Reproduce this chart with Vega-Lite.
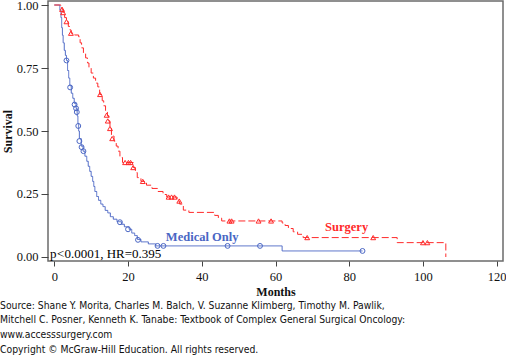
{
  "$schema": "https://vega.github.io/schema/vega-lite/v6.json",
  "width": 455,
  "height": 260,
  "autosize": {"type": "none"},
  "padding": {"left": 48, "top": 1, "right": 3, "bottom": 99},
  "background": "white",
  "config": {
    "view": {"stroke": "#6b6b6b", "strokeWidth": 1.5},
    "axis": {
      "domain": false,
      "grid": false,
      "tickColor": "#444",
      "labelFont": "Liberation Serif",
      "labelFontSize": 12.5,
      "labelColor": "#111",
      "titleFont": "Liberation Serif",
      "titleFontSize": 12,
      "titleFontWeight": "bold",
      "titleColor": "#111"
    }
  },
  "title": {
    "text": [
      "Source: Shane Y. Morita, Charles M. Balch, V. Suzanne Klimberg, Timothy M. Pawlik,",
      "Mitchell C. Posner, Kenneth K. Tanabe: Textbook of Complex General Surgical Oncology:",
      "www.accesssurgery.com",
      "Copyright © McGraw-Hill Education. All rights reserved."
    ],
    "orient": "bottom",
    "anchor": "start",
    "frame": "group",
    "dx": -48,
    "offset": 3,
    "font": "DejaVu Sans Condensed, Liberation Sans, sans-serif",
    "fontSize": 10.3,
    "fontWeight": "normal",
    "lineHeight": 14.7,
    "color": "#111"
  },
  "datasets": {
    "curves": [
      {"group": "Medical Only", "t": 0, "s": 1.0},
      {"group": "Medical Only", "t": 1.3, "s": 1.0},
      {"group": "Medical Only", "t": 1.5, "s": 0.98},
      {"group": "Medical Only", "t": 1.8, "s": 0.95},
      {"group": "Medical Only", "t": 2.0, "s": 0.91},
      {"group": "Medical Only", "t": 2.2, "s": 0.88},
      {"group": "Medical Only", "t": 2.4, "s": 0.85},
      {"group": "Medical Only", "t": 2.7, "s": 0.82},
      {"group": "Medical Only", "t": 3.0, "s": 0.80},
      {"group": "Medical Only", "t": 3.3, "s": 0.78},
      {"group": "Medical Only", "t": 3.6, "s": 0.74},
      {"group": "Medical Only", "t": 3.9, "s": 0.71},
      {"group": "Medical Only", "t": 4.2, "s": 0.68},
      {"group": "Medical Only", "t": 4.6, "s": 0.65},
      {"group": "Medical Only", "t": 5.0, "s": 0.63},
      {"group": "Medical Only", "t": 5.4, "s": 0.61},
      {"group": "Medical Only", "t": 5.9, "s": 0.59},
      {"group": "Medical Only", "t": 6.2, "s": 0.56},
      {"group": "Medical Only", "t": 6.4, "s": 0.53},
      {"group": "Medical Only", "t": 6.6, "s": 0.50},
      {"group": "Medical Only", "t": 6.8, "s": 0.47},
      {"group": "Medical Only", "t": 7.3, "s": 0.44},
      {"group": "Medical Only", "t": 7.8, "s": 0.42},
      {"group": "Medical Only", "t": 8.3, "s": 0.40},
      {"group": "Medical Only", "t": 8.8, "s": 0.38},
      {"group": "Medical Only", "t": 9.2, "s": 0.36},
      {"group": "Medical Only", "t": 9.6, "s": 0.34},
      {"group": "Medical Only", "t": 10.0, "s": 0.32},
      {"group": "Medical Only", "t": 10.4, "s": 0.30},
      {"group": "Medical Only", "t": 10.7, "s": 0.28},
      {"group": "Medical Only", "t": 11.0, "s": 0.26},
      {"group": "Medical Only", "t": 11.5, "s": 0.24},
      {"group": "Medical Only", "t": 12.0, "s": 0.225},
      {"group": "Medical Only", "t": 12.6, "s": 0.21},
      {"group": "Medical Only", "t": 13.2, "s": 0.20},
      {"group": "Medical Only", "t": 13.8, "s": 0.185},
      {"group": "Medical Only", "t": 14.5, "s": 0.175},
      {"group": "Medical Only", "t": 15.2, "s": 0.16},
      {"group": "Medical Only", "t": 16.0, "s": 0.15},
      {"group": "Medical Only", "t": 17.0, "s": 0.14},
      {"group": "Medical Only", "t": 18.2, "s": 0.13},
      {"group": "Medical Only", "t": 19.0, "s": 0.12},
      {"group": "Medical Only", "t": 20.3, "s": 0.11},
      {"group": "Medical Only", "t": 21.0, "s": 0.095},
      {"group": "Medical Only", "t": 21.8, "s": 0.085},
      {"group": "Medical Only", "t": 22.5, "s": 0.07},
      {"group": "Medical Only", "t": 23.5, "s": 0.06},
      {"group": "Medical Only", "t": 25.5, "s": 0.052},
      {"group": "Medical Only", "t": 27.5, "s": 0.044},
      {"group": "Medical Only", "t": 61.8, "s": 0.024},
      {"group": "Medical Only", "t": 83.6, "s": 0.024},
      {"group": "Surgery", "t": 0, "s": 1.0},
      {"group": "Surgery", "t": 1.5, "s": 1.0},
      {"group": "Surgery", "t": 1.8, "s": 0.99},
      {"group": "Surgery", "t": 2.1, "s": 0.983},
      {"group": "Surgery", "t": 2.4, "s": 0.97},
      {"group": "Surgery", "t": 2.8, "s": 0.95},
      {"group": "Surgery", "t": 3.3, "s": 0.934},
      {"group": "Surgery", "t": 3.8, "s": 0.915},
      {"group": "Surgery", "t": 4.3, "s": 0.90},
      {"group": "Surgery", "t": 4.6, "s": 0.888},
      {"group": "Surgery", "t": 5.5, "s": 0.881},
      {"group": "Surgery", "t": 6.6, "s": 0.874},
      {"group": "Surgery", "t": 7.0, "s": 0.85},
      {"group": "Surgery", "t": 7.4, "s": 0.83},
      {"group": "Surgery", "t": 7.9, "s": 0.81},
      {"group": "Surgery", "t": 8.5, "s": 0.79},
      {"group": "Surgery", "t": 9.0, "s": 0.77},
      {"group": "Surgery", "t": 9.4, "s": 0.75},
      {"group": "Surgery", "t": 10.0, "s": 0.73},
      {"group": "Surgery", "t": 10.6, "s": 0.71},
      {"group": "Surgery", "t": 11.2, "s": 0.69},
      {"group": "Surgery", "t": 11.8, "s": 0.675},
      {"group": "Surgery", "t": 12.3, "s": 0.645},
      {"group": "Surgery", "t": 13.0, "s": 0.62},
      {"group": "Surgery", "t": 13.4, "s": 0.60},
      {"group": "Surgery", "t": 13.9, "s": 0.58},
      {"group": "Surgery", "t": 14.4, "s": 0.56},
      {"group": "Surgery", "t": 14.8, "s": 0.54},
      {"group": "Surgery", "t": 15.1, "s": 0.51},
      {"group": "Surgery", "t": 15.5, "s": 0.48},
      {"group": "Surgery", "t": 16.2, "s": 0.46},
      {"group": "Surgery", "t": 16.8, "s": 0.44},
      {"group": "Surgery", "t": 17.3, "s": 0.42},
      {"group": "Surgery", "t": 17.8, "s": 0.395},
      {"group": "Surgery", "t": 18.5, "s": 0.375},
      {"group": "Surgery", "t": 21.4, "s": 0.355},
      {"group": "Surgery", "t": 22.0, "s": 0.335},
      {"group": "Surgery", "t": 22.5, "s": 0.315},
      {"group": "Surgery", "t": 23.5, "s": 0.30},
      {"group": "Surgery", "t": 25.0, "s": 0.285},
      {"group": "Surgery", "t": 26.5, "s": 0.272},
      {"group": "Surgery", "t": 28.0, "s": 0.26},
      {"group": "Surgery", "t": 29.5, "s": 0.248},
      {"group": "Surgery", "t": 30.5, "s": 0.238},
      {"group": "Surgery", "t": 33.3, "s": 0.222},
      {"group": "Surgery", "t": 34.0, "s": 0.21},
      {"group": "Surgery", "t": 35.0, "s": 0.186},
      {"group": "Surgery", "t": 36.5, "s": 0.177},
      {"group": "Surgery", "t": 43.5, "s": 0.165},
      {"group": "Surgery", "t": 44.5, "s": 0.154},
      {"group": "Surgery", "t": 45.4, "s": 0.143},
      {"group": "Surgery", "t": 61.8, "s": 0.135},
      {"group": "Surgery", "t": 62.6, "s": 0.125},
      {"group": "Surgery", "t": 63.5, "s": 0.113},
      {"group": "Surgery", "t": 64.8, "s": 0.10},
      {"group": "Surgery", "t": 66.0, "s": 0.09},
      {"group": "Surgery", "t": 67.5, "s": 0.077},
      {"group": "Surgery", "t": 93.0, "s": 0.057},
      {"group": "Surgery", "t": 106.2, "s": 0.0}
    ],
    "censor": [
      {"group": "Medical Only", "t": 3.3, "s": 0.78},
      {"group": "Medical Only", "t": 4.3, "s": 0.673},
      {"group": "Medical Only", "t": 5.5, "s": 0.605},
      {"group": "Medical Only", "t": 5.9, "s": 0.59},
      {"group": "Medical Only", "t": 6.1, "s": 0.575},
      {"group": "Medical Only", "t": 6.5, "s": 0.52},
      {"group": "Medical Only", "t": 6.8, "s": 0.46},
      {"group": "Medical Only", "t": 7.4, "s": 0.436},
      {"group": "Medical Only", "t": 7.9, "s": 0.42},
      {"group": "Medical Only", "t": 17.8, "s": 0.138},
      {"group": "Medical Only", "t": 20.0, "s": 0.11},
      {"group": "Medical Only", "t": 22.7, "s": 0.068},
      {"group": "Medical Only", "t": 28.0, "s": 0.044},
      {"group": "Medical Only", "t": 29.6, "s": 0.044},
      {"group": "Medical Only", "t": 47.0, "s": 0.044},
      {"group": "Medical Only", "t": 55.8, "s": 0.044},
      {"group": "Medical Only", "t": 83.6, "s": 0.024},
      {"group": "Surgery", "t": 2.1, "s": 0.983},
      {"group": "Surgery", "t": 2.4, "s": 0.97},
      {"group": "Surgery", "t": 3.3, "s": 0.934},
      {"group": "Surgery", "t": 4.5, "s": 0.888},
      {"group": "Surgery", "t": 12.4, "s": 0.645},
      {"group": "Surgery", "t": 14.2, "s": 0.563},
      {"group": "Surgery", "t": 14.5, "s": 0.54},
      {"group": "Surgery", "t": 15.1, "s": 0.51},
      {"group": "Surgery", "t": 15.7, "s": 0.47},
      {"group": "Surgery", "t": 19.2, "s": 0.375},
      {"group": "Surgery", "t": 20.1, "s": 0.375},
      {"group": "Surgery", "t": 20.7, "s": 0.375},
      {"group": "Surgery", "t": 21.4, "s": 0.355},
      {"group": "Surgery", "t": 24.0, "s": 0.30},
      {"group": "Surgery", "t": 31.0, "s": 0.238},
      {"group": "Surgery", "t": 31.8, "s": 0.238},
      {"group": "Surgery", "t": 32.6, "s": 0.238},
      {"group": "Surgery", "t": 33.9, "s": 0.222},
      {"group": "Surgery", "t": 47.5, "s": 0.143},
      {"group": "Surgery", "t": 48.1, "s": 0.143},
      {"group": "Surgery", "t": 55.4, "s": 0.143},
      {"group": "Surgery", "t": 58.8, "s": 0.143},
      {"group": "Surgery", "t": 68.6, "s": 0.077},
      {"group": "Surgery", "t": 86.5, "s": 0.077},
      {"group": "Surgery", "t": 100.0, "s": 0.057},
      {"group": "Surgery", "t": 101.2, "s": 0.057}
    ],
    "labels": [
      {"label": "Medical Only", "t": 40.1, "s": 0.079},
      {"label": "Surgery", "t": 79.3, "s": 0.12}
    ],
    "stats": [
      {"part": "p", "t": -1.2, "s": 0.01},
      {"part": "<0.0001, HR=0.395", "t": 0.75, "s": 0.01}
    ]
  },
  "encoding": {
    "x": {
      "field": "t", "type": "quantitative",
      "scale": {"domain": [-1.71, 121.71], "nice": false, "zero": false},
      "axis": {"title": "Months", "values": [0, 20, 40, 60, 80, 100, 120], "tickSize": 5, "labelPadding": 4, "titlePadding": 4}
    },
    "y": {
      "field": "s", "type": "quantitative",
      "scale": {"domain": [-0.0159, 1.0159], "nice": false, "zero": false},
      "axis": {"title": "Survival", "values": [0, 0.25, 0.5, 0.75, 1], "format": ".2f", "tickSize": 7, "labelPadding": 3, "titlePadding": 2}
    }
  },
  "layer": [
    {
      "data": {"name": "curves"},
      "mark": {"type": "line", "interpolate": "step-after", "strokeWidth": 1},
      "encoding": {
        "color": {"field": "group", "type": "nominal", "legend": null,
          "scale": {"domain": ["Medical Only", "Surgery"], "range": ["#4a66c4", "#ff2a2a"]}},
        "strokeDash": {"field": "group", "type": "nominal", "legend": null,
          "scale": {"domain": ["Medical Only", "Surgery"], "range": [[1, 0], [7, 3]]}}
      }
    },
    {
      "data": {"name": "censor"},
      "mark": {"type": "point", "filled": false, "strokeWidth": 1, "size": 24, "opacity": 1},
      "encoding": {
        "color": {"field": "group", "type": "nominal", "legend": null,
          "scale": {"domain": ["Medical Only", "Surgery"], "range": ["#4a66c4", "#ff2a2a"]}},
        "shape": {"field": "group", "type": "nominal", "legend": null,
          "scale": {"domain": ["Medical Only", "Surgery"], "range": ["circle", "triangle-up"]}}
      }
    },
    {
      "data": {"name": "labels"},
      "mark": {"type": "text", "font": "Liberation Serif", "fontSize": 12.5, "fontWeight": "bold", "align": "center", "baseline": "middle"},
      "encoding": {
        "text": {"field": "label"},
        "color": {"field": "label", "type": "nominal", "legend": null,
          "scale": {"domain": ["Medical Only", "Surgery"], "range": ["#1f3a8f", "#e01010"]}}
      }
    },
    {
      "data": {"name": "stats"},
      "mark": {"type": "text", "font": "Liberation Serif", "fontSize": 13, "align": "left", "baseline": "middle", "color": "#000"},
      "encoding": {
        "text": {"field": "part"},
        "fontStyle": {"field": "part", "type": "nominal", "legend": null,
          "scale": {"domain": ["p", "<0.0001, HR=0.395"], "range": ["italic", "normal"]}}
      }
    }
  ]
}
